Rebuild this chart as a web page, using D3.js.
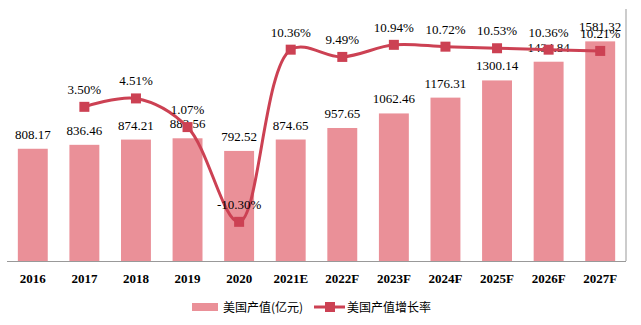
<!DOCTYPE html>
<html><head><meta charset="utf-8">
<script src="https://cdn.jsdelivr.net/npm/d3@7"></script>
<style>body{margin:0;background:#fff}svg{display:block}</style>
</head><body>
<script>
const categories = ["2016","2017","2018","2019","2020","2021E","2022F","2023F","2024F","2025F","2026F","2027F"];
const outputValues = [808.17,836.46,874.21,883.56,792.52,874.65,957.65,1062.46,1176.31,1300.14,1434.84,1581.32];
const growthRates = [null,3.50,4.51,1.07,-10.30,10.36,9.49,10.94,10.72,10.53,10.36,10.21];
const seriesNames = ["美国产值(亿元)","美国产值增长率"];

(function(){
const W=641,H=325;
const svg=d3.select("body").append("svg").attr("width",W).attr("height",H);
const pl=7,pr=626,pt=11,pb=261;
const x=d3.scaleBand().domain(categories).range([pl,pr]).paddingInner(0.42).paddingOuter(0.21);
const y=d3.scaleLinear().domain([0,1800]).range([pb,pt]);
const y2=d3.scaleLinear().domain([-15,15]).range([pb,pt]);
const barColor="#ea9098", lineColor="#cc4153";
const serif="'Liberation Serif','Times New Roman',serif";
const sans="'Noto Sans CJK SC','Noto Sans',sans-serif";

svg.append("line").attr("x1",pr).attr("x2",pr).attr("y1",pt-2).attr("y2",pb).attr("stroke","#999").attr("stroke-width",1);

svg.selectAll("rect.bar").data(categories).join("rect").attr("class","bar")
 .attr("x",d=>x(d)).attr("width",x.bandwidth())
 .attr("y",(d,i)=>y(outputValues[i])).attr("height",(d,i)=>pb-y(outputValues[i]))
 .attr("fill",barColor);

const xa=svg.append("g").attr("transform",`translate(0,${pb})`).call(d3.axisBottom(x).tickSize(0).tickPadding(10));
xa.select(".domain").attr("stroke","#999").attr("d",`M${pl},0.5H${pr}`);
xa.selectAll("text").attr("font-family",serif).attr("font-size",13).attr("font-weight","bold").attr("fill","#000").attr("dy","0.9em");

svg.selectAll("text.bl").data(categories).join("text").attr("class","bl")
 .attr("x",d=>x(d)+x.bandwidth()/2).attr("y",(d,i)=>y(outputValues[i])-10)
 .attr("text-anchor","middle").attr("font-family",serif).attr("font-size",13).text((d,i)=>outputValues[i].toFixed(2));

const pts=categories.map((c,i)=>({c,v:growthRates[i]})).filter(d=>d.v!==null);
const line=d3.line().x(d=>x(d.c)+x.bandwidth()/2).y(d=>y2(d.v)).curve(d3.curveCatmullRom.alpha(0.5));
svg.append("path").datum(pts).attr("d",line).attr("fill","none").attr("stroke",lineColor).attr("stroke-width",3);
svg.selectAll("rect.mk").data(pts).join("rect").attr("class","mk")
 .attr("x",d=>x(d.c)+x.bandwidth()/2-5).attr("y",d=>y2(d.v)-5).attr("width",10).attr("height",10).attr("fill",lineColor);
svg.selectAll("text.ll").data(pts).join("text").attr("class","ll")
 .attr("x",d=>x(d.c)+x.bandwidth()/2).attr("y",d=>y2(d.v)-13)
 .attr("text-anchor","middle").attr("font-family",serif).attr("font-size",13).text(d=>d.v.toFixed(2)+"%");

const lg=svg.append("g");
lg.append("rect").attr("x",192).attr("y",303).attr("width",26).attr("height",8).attr("fill",barColor);
lg.append("text").attr("x",223).attr("y",311.5).attr("font-family",sans).attr("font-size",12).text(seriesNames[0]);
lg.append("line").attr("x1",314).attr("x2",345).attr("y1",307).attr("y2",307).attr("stroke",lineColor).attr("stroke-width",3);
lg.append("rect").attr("x",325).attr("y",302).attr("width",10).attr("height",10).attr("fill",lineColor);
lg.append("text").attr("x",347).attr("y",311.5).attr("font-family",sans).attr("font-size",12).text(seriesNames[1]);
})();
</script>
</body></html>
